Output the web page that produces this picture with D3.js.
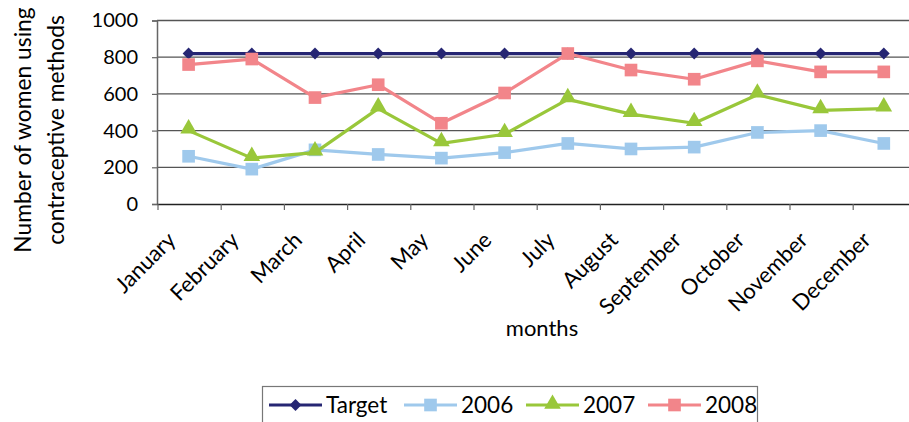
<!DOCTYPE html>
<html><head><meta charset="utf-8">
<script src="https://cdn.jsdelivr.net/npm/d3@7"></script>
<style>html,body{margin:0;padding:0;background:#fff;} svg{display:block;}</style>
</head><body>
<svg id="c" width="909" height="422"></svg>
<script>
const months = ["January","February","March","April","May","June","July","August","September","October","November","December"];
const target = [820,820,820,820,820,820,820,820,820,820,820,820];
const y2006 = [260,190,295,270,250,280,330,300,310,390,400,330];
const y2007 = [400,250,280,520,330,380,570,490,440,595,510,520];
const y2008 = [760,790,580,650,440,605,820,730,680,780,720,720];
const yTicks = [0,200,400,600,800,1000];
const seriesNames = ["Target","2006","2007","2008"];

const series = [
  {name: seriesNames[0], values: target, color: "#262673", marker: "diamond"},
  {name: seriesNames[1], values: y2006, color: "#9fc9ec", marker: "square"},
  {name: seriesNames[2], values: y2007, color: "#99c73a", marker: "triangle"},
  {name: seriesNames[3], values: y2008, color: "#f2858a", marker: "square"}
];

const font = "Lato, 'Open Sans', sans-serif";
const svg = d3.select("#c");
const x = d3.scaleBand().domain(months).range([157, 157 + 12 * 63.2]);
const y = d3.scaleLinear().domain([0, 1000]).range([204, 20.5]);

// gridlines
svg.append("g").selectAll("line").data(yTicks.filter(d => d > 0)).join("line")
  .attr("x1", 157).attr("x2", 916)
  .attr("y1", d => y(d)).attr("y2", d => y(d))
  .attr("stroke", "#555").attr("stroke-width", 1.3);

// y axis
const yAxis = svg.append("g").attr("transform", "translate(157,0)")
  .call(d3.axisLeft(y).tickValues(yTicks).tickSize(5).tickPadding(14).tickFormat(d3.format("d")));
yAxis.select(".domain").attr("stroke", "#666").attr("stroke-width", 1.5);
yAxis.selectAll(".tick line").attr("stroke", "#666").attr("stroke-width", 1.2);
yAxis.selectAll("text").attr("font-family", font).attr("font-size", 20).attr("fill", "#000");

// x axis
const xAxis = svg.append("g").attr("transform", "translate(0,204)")
  .call(d3.axisBottom(x).tickSize(0).tickFormat(""));
xAxis.select(".domain").attr("stroke", "#222").attr("stroke-width", 1.3);
svg.append("g").selectAll("line").data(months).join("line")
  .attr("x1", d => x(d) + 1).attr("x2", d => x(d) + 1)
  .attr("y1", 204).attr("y2", 210)
  .attr("stroke", "#666").attr("stroke-width", 1.2);

// month labels
svg.append("g").selectAll("text").data(months).join("text")
  .attr("transform", d => `translate(${x(d) + x.bandwidth() / 2 - 17},${236}) rotate(-45)`)
  .attr("text-anchor", "end")
  .attr("dy", "0.35em")
  .attr("font-family", font).attr("font-size", 22).attr("fill", "#000")
  .text(d => d);

// axis titles
svg.append("text").attr("x", 542).attr("y", 336).attr("text-anchor", "middle")
  .attr("font-family", font).attr("font-size", 22).text("months");
const yt = svg.append("text").attr("transform", "translate(31,130) rotate(-90)")
  .attr("text-anchor", "middle").attr("font-family", font).attr("font-size", 22.8);
yt.append("tspan").attr("x", 0).attr("dy", 0).text("Number of women using");
yt.append("tspan").attr("x", 0).attr("dy", 33).text("contraceptive methods");

// markers
function markerPath(type) {
  if (type === "diamond") return d3.symbol().type(d3.symbolDiamond2).size(90)();
  if (type === "square") return d3.symbol().type(d3.symbolSquare).size(160)();
  return d3.symbol().type(d3.symbolTriangle).size(120)();
}

const cx = d => x(d) + x.bandwidth() / 2;
const line = d3.line().x(d => cx(d.m)).y(d => y(d.v));

series.forEach(s => {
  const pts = months.map((m, i) => ({m, v: s.values[i]}));
  svg.append("path").datum(pts).attr("d", line)
    .attr("fill", "none").attr("stroke", s.color).attr("stroke-width", 3.2)
    .attr("stroke-linejoin", "round");
  svg.append("g").selectAll("path").data(pts).join("path")
    .attr("d", markerPath(s.marker))
    .attr("transform", d => `translate(${cx(d.m)},${y(d.v) + (s.marker === "triangle" ? -2 : 0)})`)
    .attr("fill", s.color);
});

// legend
svg.append("rect").attr("x", 262.5).attr("y", 386.5).attr("width", 495).attr("height", 40)
  .attr("fill", "#fff").attr("stroke", "#777").attr("stroke-width", 1.2);
const legX = [269, 404, 526, 648];
series.forEach((s, i) => {
  const g = svg.append("g").attr("transform", `translate(${legX[i]},405)`);
  g.append("line").attr("x1", 0).attr("x2", 53).attr("y1", 0).attr("y2", 0)
    .attr("stroke", s.color).attr("stroke-width", 3.2);
  g.append("path").attr("d", markerPath(s.marker)).attr("transform", `translate(26.5,${s.marker === "triangle" ? -1 : 0})`)
    .attr("fill", s.color);
  g.append("text").attr("x", 57).attr("y", 0).attr("dy", "0.35em")
    .attr("font-family", font).attr("font-size", 22.5).attr("fill", "#000").text(s.name);
});
</script>
</body></html>
